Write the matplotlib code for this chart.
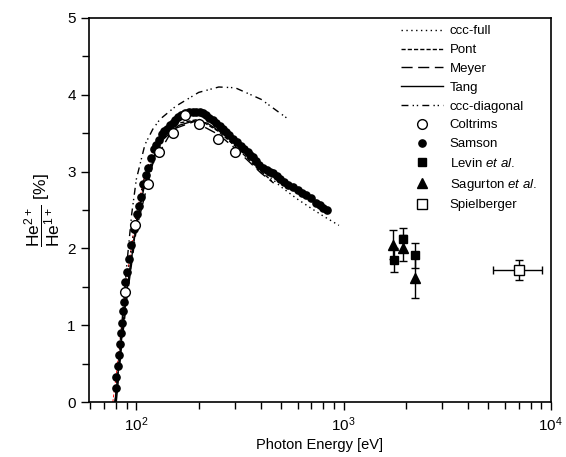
import numpy as np
import matplotlib
matplotlib.use('Agg')
from matplotlib import pyplot as plt
from matplotlib.ticker import LogLocator, MultipleLocator
from matplotlib.container import ErrorbarContainer

plt.rcParams['font.family'] = ['Liberation Sans', 'DejaVu Sans']
plt.rcParams['mathtext.fontset'] = 'custom'
plt.rcParams['mathtext.rm'] = 'Liberation Sans'
plt.rcParams['mathtext.it'] = 'Liberation Sans:italic'

samson_e = np.array([79.8, 80.2, 81.6, 82.8, 83.7, 84.6, 85.3, 86.3, 87.2, 88.5, 90.5, 92.5, 94.6,
                     97.5, 100.8, 103.4, 105.3, 108, 111, 113.9, 118.2, 121.3, 125, 128, 132.5,
                     136, 140, 145, 149.8, 154, 158.2, 165, 172, 180, 187, 195, 202, 209, 216,
                     225, 234, 242, 252, 261, 270, 280, 292, 305, 320, 332, 345, 355, 365, 380,
                     393, 410, 425, 440, 456, 475, 495, 515, 540, 569, 600, 630, 660, 700, 738,
                     770, 800, 828])
samson_r = np.array([0.18, 0.33, 0.47, 0.61, 0.76, 0.90, 1.03, 1.18, 1.30, 1.56, 1.69, 1.86, 2.04,
                     2.25, 2.45, 2.55, 2.67, 2.84, 2.95, 3.04, 3.17, 3.29, 3.35, 3.41, 3.49,
                     3.53, 3.56, 3.60, 3.63, 3.67, 3.71, 3.74, 3.76, 3.77, 3.78, 3.78, 3.78, 3.76, 3.73,
                     3.70, 3.67, 3.63, 3.59, 3.55, 3.51, 3.47, 3.43, 3.38, 3.33, 3.29, 3.25, 3.22, 3.19, 3.14,
                     3.09, 3.05, 3.02, 3.00, 2.98, 2.94, 2.90, 2.86, 2.83, 2.80, 2.76, 2.72, 2.69, 2.65, 2.59,
                     2.56, 2.53, 2.50])

coltrims_e = np.array([87.8, 98.9, 114, 128, 149.7, 172, 200, 249, 300])
coltrims_r = np.array([1.43, 2.30, 2.84, 3.26, 3.50, 3.74, 3.62, 3.42, 3.26])

levin_e = np.array([1750, 1940, 2220])
levin_r = np.array([1.85, 2.12, 1.91])
levin_err = np.array([0.16, 0.15, 0.16])

sagurton_e = np.array([1730, 1940, 2220])
sagurton_r = np.array([2.05, 2.01, 1.62])
sagurton_err = np.array([0.19, 0.17, 0.27])

spiel_e = np.array([7000])
spiel_r = np.array([1.72])
spiel_xerr = np.array([[1750], [2100]])
spiel_yerr = np.array([0.13])

# theory curves
cccfull_e = [79, 82, 85, 90, 95, 100, 110, 120, 140, 160, 190, 220, 260, 300, 400, 500, 600, 700, 800, 950]
cccfull_r = [0, 0.45, 0.92, 1.55, 2.05, 2.45, 2.95, 3.25, 3.55, 3.68, 3.75, 3.7, 3.53, 3.36, 3.03, 2.8, 2.64, 2.52, 2.42, 2.3]

pont_e = [79, 85, 90, 100, 110, 130, 160, 200, 250, 300, 400, 450]
pont_r = [0, 0.85, 1.45, 2.35, 2.9, 3.4, 3.63, 3.68, 3.52, 3.33, 3.0, 2.88]

meyer_e = [80, 85, 90, 100, 120, 150, 190, 250, 300, 400, 460]
meyer_r = [0, 0.75, 1.35, 2.25, 3.1, 3.55, 3.65, 3.48, 3.3, 2.98, 2.85]

tang_e = [79, 85, 90, 100, 110, 130, 160, 190, 220, 260, 300]
tang_r = [0, 0.85, 1.45, 2.3, 2.85, 3.38, 3.6, 3.66, 3.63, 3.5, 3.37]

cccdiag_e = [79, 85, 90, 95, 100, 110, 120, 130, 155, 200, 250, 300, 400, 530]
cccdiag_r = [0, 1.0, 1.8, 2.45, 2.9, 3.35, 3.55, 3.68, 3.85, 4.03, 4.1, 4.09, 3.94, 3.7]

red_e = [77, 80, 85, 90, 100, 110, 120, 130, 145]
red_r = [0, 0.35, 1.0, 1.62, 2.45, 2.95, 3.27, 3.43, 3.6]

fig = plt.figure(figsize=(5.66, 4.57), dpi=100)
ax = fig.add_axes([0.157, 0.120, 0.816, 0.841])

ax.plot(red_e, red_r, color='red', lw=0.7, ls=(0, (3, 2)))
ax.plot(cccfull_e, cccfull_r, color='black', lw=1.0, ls=(0, (1, 2.5)), label='ccc-full')
ax.plot(pont_e, pont_r, color='black', lw=1.0, ls=(0, (3, 1.5)), label='Pont')
ax.plot(meyer_e, meyer_r, color='black', lw=1.0, ls=(0, (8, 4)), label='Meyer')
ax.plot(tang_e, tang_r, color='black', lw=1.0, ls='-', label='Tang')
ax.plot(cccdiag_e, cccdiag_r, color='black', lw=1.0, ls=(0, (5, 3, 1, 2, 1, 3)), label='ccc-diagonal')

ax.plot(coltrims_e, coltrims_r, 'o', ms=7, mfc='white', mec='black', mew=1.0, label='Coltrims', zorder=4)
ax.plot(samson_e, samson_r, 'o', ms=5.2, color='black', label='Samson', zorder=3)
ax.errorbar(levin_e, levin_r, yerr=levin_err, fmt='s', ms=6, color='black', ecolor='black',
            elinewidth=1, capsize=3, label=r'Levin $\it{et\ al.}$')
ax.errorbar(sagurton_e, sagurton_r, yerr=sagurton_err, fmt='^', ms=7, color='black', ecolor='black',
            elinewidth=1, capsize=3, label=r'Sagurton $\it{et\ al.}$')
ax.errorbar(spiel_e, spiel_r, xerr=spiel_xerr, yerr=spiel_yerr, fmt='s', ms=7, mfc='white', mec='black',
            color='black', ecolor='black', elinewidth=1, capsize=3, label='Spielberger')

ax.set_xscale('log')
ax.set_xlim(59, 1e4)
ax.set_ylim(0, 5)
ax.yaxis.set_major_locator(MultipleLocator(1))
ax.yaxis.set_minor_locator(MultipleLocator(0.5))
ax.xaxis.set_minor_locator(LogLocator(base=10, subs=np.arange(2, 10), numticks=20))
ax.tick_params(which='both', direction='out', labelsize=11, top=False, right=False, width=1)
ax.tick_params(which='major', length=6)
ax.tick_params(which='minor', length=5)
for s in ax.spines.values():
    s.set_linewidth(1.2)

ax.set_xlabel('Photon Energy [eV]', fontsize=10.5, labelpad=3)
ax.set_ylabel(r'$\dfrac{\mathrm{He}^{2+}}{\mathrm{He}^{1+}}$ [%]', fontsize=12.5, labelpad=3)

handles, labels = ax.get_legend_handles_labels()
handles = [h.lines[0] if isinstance(h, ErrorbarContainer) else h for h in handles]
ax.legend(handles, labels, loc='upper right', bbox_to_anchor=(0.995, 1.012), frameon=False,
          fontsize=9.5, handlelength=3.2, labelspacing=0.5, handletextpad=0.5)

fig.savefig('out.png', dpi=100)
